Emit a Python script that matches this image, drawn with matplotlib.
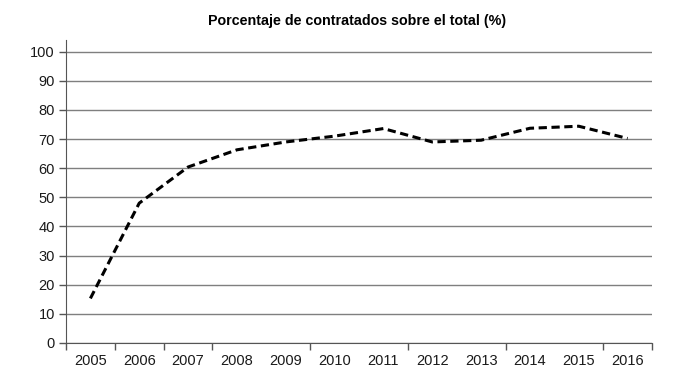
import numpy as np
import matplotlib
matplotlib.use("Agg")
import matplotlib.pyplot as plt

years = ["2005", "2006", "2007", "2008", "2009", "2010",
         "2011", "2012", "2013", "2014", "2015", "2016"]
pct = [15.3, 48.0, 60.4, 66.3, 69.0, 71.0, 73.6, 69.0, 69.6, 73.7, 74.4, 70.2]

plt.rcParams['font.family'] = ['Liberation Sans', 'DejaVu Sans']

fig = plt.figure(figsize=(6.78, 3.79), dpi=100)
ax = fig.add_axes([0.0973, 0.095, 0.8644, 0.7995])

x = np.arange(len(years))
ax.plot(x, pct, color="black", lw=2.2, dashes=(2.7, 1.5), solid_capstyle="butt")

ax.set_xlim(-0.5, len(years) - 0.5)
ax.set_ylim(0, 104)
ax.set_yticks(np.arange(0, 101, 10))
ax.yaxis.grid(True, color="#7f7f7f", lw=1.0)
ax.set_axisbelow(True)

ax.set_xticks(x)
ax.set_xticklabels(years)
ax.set_xticks([-0.5, 0.5, 1.5, 2.5, 4.5, 6.5, 8.5, 10.5, 11.5], minor=True)
ax.tick_params(axis="x", which="major", length=0, pad=8, labelsize=10.5, colors="#1a1a1a")
ax.tick_params(axis="x", which="minor", length=5, width=1, color="#555555", direction="out")
ax.tick_params(axis="y", length=5, width=1, color="#555555", labelsize=10.5, labelcolor="#1a1a1a", pad=3)

for s in ["top", "right"]:
    ax.spines[s].set_visible(False)
ax.spines["left"].set_color("#555555")
ax.spines["bottom"].set_color("#555555")

fig.text(0.527, 0.945, "Porcentaje de contratados sobre el total (%)",
         ha="center", va="center", fontsize=10.3, fontweight="bold")

fig.savefig("out.png", dpi=100)
